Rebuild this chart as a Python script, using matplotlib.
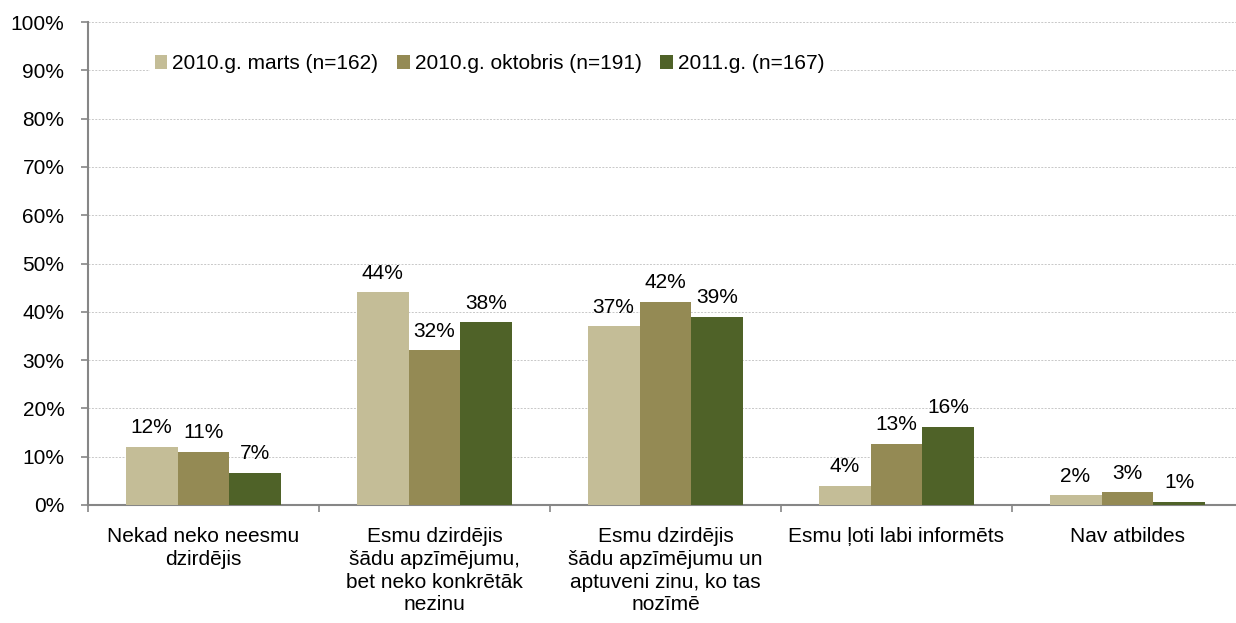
import matplotlib
matplotlib.use("Agg")
import matplotlib.pyplot as plt
import numpy as np

categories = [
    "Nekad neko neesmu\ndzirdējis",
    "Esmu dzirdējis\nšādu apzīmējumu,\nbet neko konkrētāk\nnezinu",
    "Esmu dzirdējis\nšādu apzīmējumu un\naptuveni zinu, ko tas\nnozīmē",
    "Esmu ļoti labi informēts",
    "Nav atbildes",
]
series_names = ["2010.g. marts (n=162)", "2010.g. oktobris (n=191)", "2011.g. (n=167)"]
marts = [12.0, 44.0, 37.0, 4.0, 2.0]
oktobris = [11.0, 32.0, 42.0, 12.6, 2.6]
g2011 = [6.6, 37.8, 39.0, 16.2, 0.6]
labels_marts = ["12%", "44%", "37%", "4%", "2%"]
labels_okt = ["11%", "32%", "42%", "13%", "3%"]
labels_2011 = ["7%", "38%", "39%", "16%", "1%"]
colors = ["#C4BD97", "#948A54", "#4F6228"]

plt.rcParams['font.family'] = ['Liberation Sans', 'DejaVu Sans']
FS = 15
fig = plt.figure(figsize=(12.36, 6.23), dpi=100)
ax = fig.add_axes([88/1236, 1-505/623, (1243-88)/1236, (505-22)/623])

x = np.arange(len(categories))
w = 0.225
series = [marts, oktobris, g2011]
labs = [labels_marts, labels_okt, labels_2011]
for i, (vals, lab, c, name) in enumerate(zip(series, labs, colors, series_names)):
    pos = x + (i - 1) * w
    ax.bar(pos, vals, width=w, color=c, label=name, zorder=3, linewidth=0)
    for xp, v, t in zip(pos, vals, lab):
        ax.annotate(t, (xp, v), xytext=(0, 7), textcoords="offset points",
                    ha="center", va="bottom", fontsize=FS, color="black")

ax.set_xlim(-0.5, len(categories) - 0.5)
ax.set_ylim(0, 100)
ax.set_yticks(np.arange(0, 101, 10))
ax.set_yticklabels([f"{v}%" for v in range(0, 101, 10)], fontsize=FS)
ax.yaxis.grid(True, color="#C8C8C8", linestyle=(0, (2, 1.5)), linewidth=0.7, zorder=0)
ax.set_axisbelow(True)

ax.set_xticks(np.arange(-0.5, len(categories), 1.0))
ax.set_xticklabels([])
ax.set_xticks(x, minor=True)
ax.set_xticklabels(categories, minor=True, fontsize=FS, linespacing=1.25)
ax.tick_params(axis="x", which="minor", length=0, pad=16)
ax.tick_params(axis="x", which="major", length=5, color="#868686", width=1.2)
ax.tick_params(axis="y", length=5, color="#868686", width=1.2, pad=12)

for s in ["top", "right"]:
    ax.spines[s].set_visible(False)
for s in ["left", "bottom"]:
    ax.spines[s].set_color("#868686")
    ax.spines[s].set_linewidth(1.5)

leg = ax.legend(loc="upper left", bbox_to_anchor=(0.045, 0.963), ncol=3, frameon=True,
                fontsize=FS, handlelength=0.6, handleheight=0.6, handletextpad=0.25,
                columnspacing=0.9, borderpad=0.2, fancybox=False)
leg.get_frame().set_edgecolor("white")
leg.get_frame().set_facecolor("white")
leg.get_frame().set_alpha(1)

fig.savefig("out.png", dpi=100)
